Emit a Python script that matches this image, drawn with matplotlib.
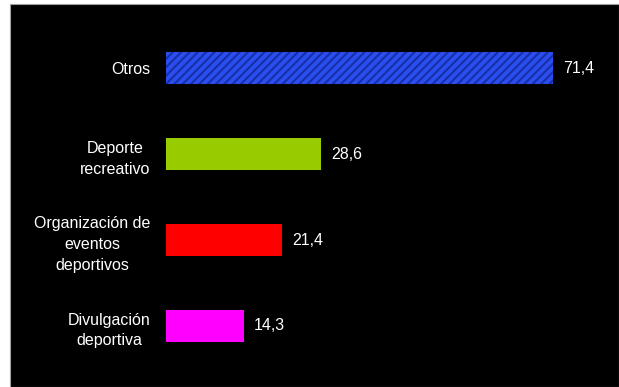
import numpy as np
import matplotlib.pyplot as plt
from matplotlib.patches import Rectangle

plt.rcParams['font.family'] = ['Liberation Sans', 'DejaVu Sans']
plt.rcParams['hatch.linewidth'] = 1.5

# datos (de abajo hacia arriba)
categorias = ["Divulgación\ndeportiva", "Organización de\neventos\ndeportivos",
              "Deporte\nrecreativo", "Otros"]
valores = [14.3, 21.4, 28.6, 71.4]
etiquetas = ["14,3", "21,4", "28,6", "71,4"]
colores = ["#ff00ff", "#ff0000", "#99cc00", "#2a4ff0"]

fig = plt.figure(figsize=(6.19, 3.87), dpi=100)
fig.patch.set_facecolor("white")

# fondo negro del área del gráfico
fondo = Rectangle((10 / 619, 0), 1 - 10 / 619, 383 / 387,
                  transform=fig.transFigure, facecolor="black",
                  edgecolor="#a0a0a0", linewidth=0.8, zorder=-10)
fig.patches.append(fondo)

ax = fig.add_axes([166 / 619, 18 / 387, 434 / 619, 344 / 387])
ax.set_facecolor("none")

y = np.arange(len(categorias))
barras = ax.barh(y, valores, height=0.372, color=colores, linewidth=0)
# barra "Otros" con rayado diagonal
barras[3].set_hatch("////")
barras[3].set_edgecolor("#1a2ea8")

ax.set_xlim(0, 80)
ax.set_ylim(-0.5, 3.5)
ax.set_yticks(y)
ax.set_yticklabels(categorias, color="white", fontsize=11.5, linespacing=1.5)
for t in ax.get_yticklabels():
    t.set_multialignment("center")
ax.tick_params(axis="y", length=0, pad=11)
ax.get_xaxis().set_visible(False)
for s in ax.spines.values():
    s.set_visible(False)

for b, txt in zip(barras, etiquetas):
    ax.annotate(txt, (b.get_width(), b.get_y() + b.get_height() / 2),
                xytext=(7, 0), textcoords="offset points", va="center",
                ha="left", color="white", fontsize=11.5)

fig.savefig("out.png", dpi=100, facecolor=fig.get_facecolor())
